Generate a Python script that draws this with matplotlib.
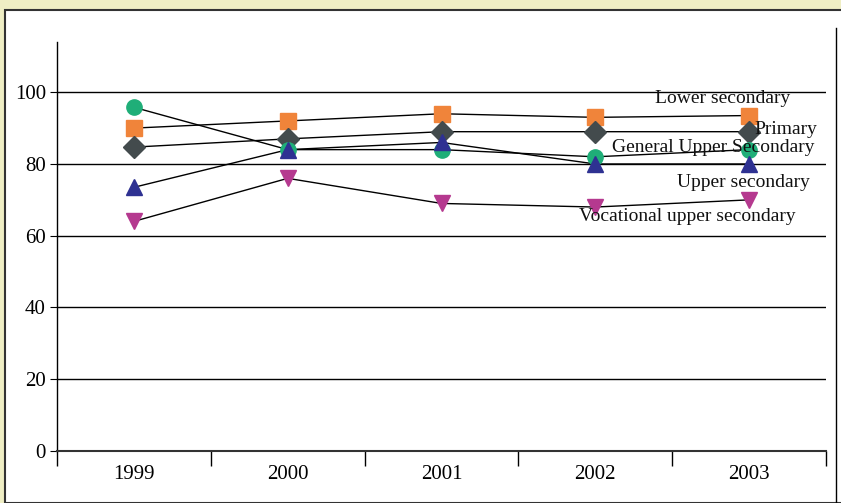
import matplotlib
matplotlib.use("Agg")
from matplotlib import pyplot as plt
from matplotlib.patches import Rectangle
from matplotlib.lines import Line2D

years = ["1999", "2000", "2001", "2002", "2003"]
lower_secondary = [90, 92, 94, 93, 93.5]
primary = [84.7, 87, 89, 89, 89]
general_upper = [95.8, 84, 84, 82, 84]
upper_secondary = [73.5, 84, 86, 80, 80]
vocational_upper = [64, 76, 69, 68, 70]

series = [
    ("Lower secondary", lower_secondary, "s", "#f0843a", 11),
    ("Primary", primary, "D", "#434b4d", 11),
    ("General Upper Secondary", general_upper, "o", "#1fae78", 11),
    ("Upper secondary", upper_secondary, "^", "#2e3192", 12),
    ("Vocational upper secondary", vocational_upper, "v", "#b5398f", 12),
]
# label placement (data coords)
label_pos = {
    "Lower secondary": (3.83, 98.3),
    "Primary": (4.24, 89.7),
    "General Upper Secondary": (3.77, 84.7),
    "Upper secondary": (3.96, 74.9),
    "Vocational upper secondary": (3.6, 65.5),
}

plt.rcParams['font.family'] = ['Liberation Serif', 'DejaVu Serif']

fig = plt.figure(figsize=(8.41, 5.03), dpi=100)
fig.patch.set_facecolor("#efeec4")
# white panel with dark border
fig.patches.append(Rectangle((5 / 841, 0), 1, 1 - 10 / 503, transform=fig.transFigure,
                             facecolor="white", edgecolor="#333333", linewidth=1.5, zorder=-5))
# right vertical line
fig.lines.append(Line2D([836 / 841, 836 / 841], [0, 1 - 28 / 503], transform=fig.transFigure,
                        color="black", linewidth=1))

ax = fig.add_axes([57 / 841, 1 - 451 / 503, (826 - 57) / 841, (451 - 42) / 503])
ax.set_facecolor("none")
x = list(range(len(years)))
for name, vals, mk, col, ms in series:
    ax.plot(x, vals, color="black", linewidth=1, zorder=2)
    ax.plot(x, vals, linestyle="none", marker=mk, markersize=ms,
            markerfacecolor=col, markeredgecolor=col, zorder=3)
    lx, ly = label_pos[name]
    ax.text(lx, ly, name, ha="center", va="center", fontsize=14, color="#111111", zorder=4)

ax.set_xlim(-0.5, 4.5)
ax.set_ylim(0, 114)
ax.set_yticks([0, 20, 40, 60, 80, 100])
for v in [20, 40, 60, 80, 100]:
    ax.axhline(v, color="black", linewidth=1, zorder=1)
ax.set_xticks(x)
ax.set_xticklabels(years)
ax.set_xticks([i - 0.5 for i in range(len(years) + 1)], minor=True)
ax.tick_params(axis="x", which="major", length=0, pad=10, labelsize=15)
ax.tick_params(axis="x", which="minor", length=11, width=1, direction="out")
ax.tick_params(axis="y", length=5, labelsize=15, pad=3)
for s in ["top", "right"]:
    ax.spines[s].set_visible(False)
ax.spines["left"].set_linewidth(1)
ax.spines["bottom"].set_linewidth(1.5)
ax.spines["bottom"].set_color("#333333")

fig.savefig("out.png", dpi=100, facecolor=fig.get_facecolor())
